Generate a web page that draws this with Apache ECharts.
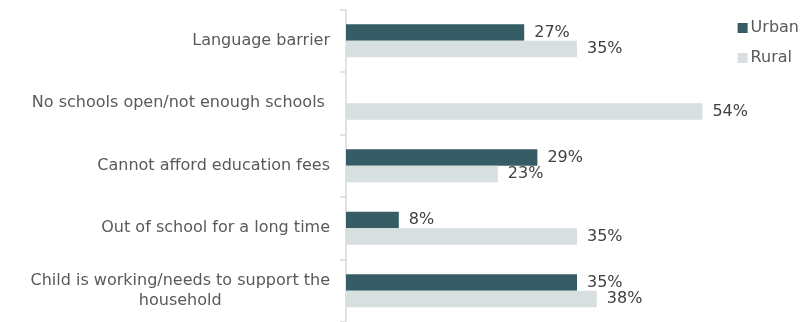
<!DOCTYPE html>
<html>
<head>
<meta charset="utf-8">
<script src="https://cdn.jsdelivr.net/npm/echarts@6/dist/echarts.min.js"></script>
<style>
  html, body { margin: 0; padding: 0; background: #ffffff; }
  #chart { width: 806px; height: 322px; }
</style>
</head>
<body>
<div id="chart"></div>
<script>
// Reasons for children not attending school, by area (%)
const categories = [
  'Language barrier',
  'No schools open/not enough schools ',
  'Cannot afford education fees',
  'Out of school for a long time',
  'Child is working/needs to support the\nhousehold'
];
const urbanValues = [27, null, 29, 8, 35];
const ruralValues = [35, 54, 23, 35, 38];
const seriesNames = ['Urban', 'Rural'];

const FONT = '"DejaVu Sans", sans-serif';
const TEXT_COLOR = '#595959';
const FONT_SIZE = 16;

const chart = echarts.init(document.getElementById('chart'));

function valueLabel() {
  return {
    show: true,
    position: 'right',
    distance: 10,
    formatter: p => p.value + '%',
    color: '#404040',
    fontFamily: FONT,
    fontSize: FONT_SIZE
  };
}

chart.setOption({
  animation: false,
  legend: {
    orient: 'vertical',
    right: 2,
    top: 15,
    itemWidth: 10,
    itemHeight: 10,
    itemGap: 14,
    icon: 'rect',
    data: seriesNames,
    textStyle: { color: TEXT_COLOR, fontFamily: FONT, fontSize: FONT_SIZE, padding: [0, 0, 0, -2] }
  },
  grid: { left: 346, top: 9.5, width: 396, height: 315, containLabel: false },
  xAxis: {
    type: 'value',
    min: 0,
    max: 60,
    show: false
  },
  yAxis: {
    type: 'category',
    inverse: true,
    data: categories,
    axisLine: { show: true, lineStyle: { color: '#d9d9d9', width: 1.5 } },
    axisTick: { show: true, length: 6, lineStyle: { color: '#d9d9d9', width: 1.5 } },
    axisLabel: {
      margin: 16,
      formatter: v => v.split('\n').map(s => '{c|' + s + '}').join('\n'),
      rich: {
        c: { align: 'center', color: TEXT_COLOR, fontFamily: FONT, fontSize: FONT_SIZE, lineHeight: 20 }
      },
      color: TEXT_COLOR,
      fontFamily: FONT,
      fontSize: FONT_SIZE
    }
  },
  series: [
    {
      name: seriesNames[0],
      type: 'bar',
      data: urbanValues,
      barWidth: 16.5,
      barGap: '0%',
      itemStyle: { color: '#365c66' },
      label: valueLabel()
    },
    {
      name: seriesNames[1],
      type: 'bar',
      data: ruralValues,
      barWidth: 16.5,
      barGap: '0%',
      itemStyle: { color: '#d7dfe0' },
      label: valueLabel()
    }
  ]
});
</script>
</body>
</html>
